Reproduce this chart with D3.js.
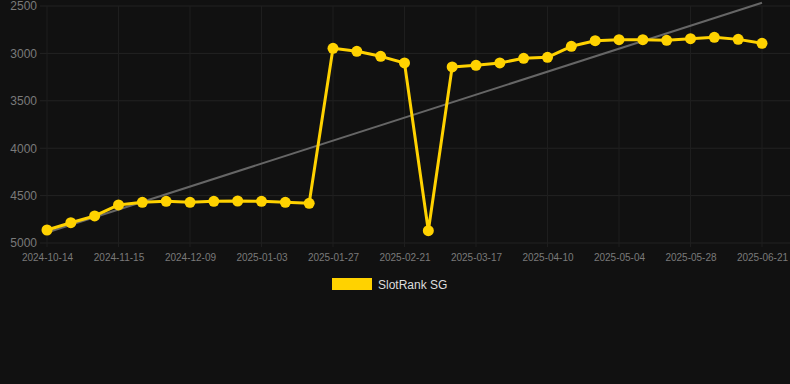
<!DOCTYPE html>
<html>
<head>
<meta charset="utf-8">
<script src="https://cdn.jsdelivr.net/npm/d3@7/dist/d3.min.js"></script>
<style>
html,body{margin:0;padding:0;background:#111111;}
svg{display:block;font-family:"Liberation Sans",Arial,sans-serif;}
</style>
</head>
<body>
<svg id="chart" width="790" height="384"></svg>
<script>
const dates = ["2024-10-14","2024-10-25","2024-11-05","2024-11-15","2024-11-23","2024-12-01","2024-12-09","2024-12-17","2024-12-25","2025-01-03","2025-01-11","2025-01-19","2025-01-27","2025-02-04","2025-02-12","2025-02-21","2025-03-01","2025-03-09","2025-03-17","2025-03-25","2025-04-02","2025-04-10","2025-04-18","2025-04-26","2025-05-04","2025-05-12","2025-05-20","2025-05-28","2025-06-05","2025-06-13","2025-06-21"];
const values = [4863,4786,4715,4599,4571,4560,4571,4560,4557,4560,4571,4581,2946,2978,3031,3101,4870,3143,3126,3101,3052,3041,2925,2866,2855,2855,2862,2845,2830,2852,2894];
const trendEnds = [4890,2465];
const yTicks = [2500,3000,3500,4000,4500,5000];
const xTickLabels = ["2024-10-14","2024-11-15","2024-12-09","2025-01-03","2025-01-27","2025-02-21","2025-03-17","2025-04-10","2025-05-04","2025-05-28","2025-06-21"];
const seriesName = "SlotRank SG";

(function () {
const svg = d3.select("#chart");
const pTop = 6, pBottom = 243, pLeft = 40, pRight = 790;
const x = d3.scalePoint().domain(dates).range([47, 762]);
const y = d3.scaleLinear().domain([2500, 5000]).range([pTop, pBottom]);

const grid = svg.append("g");
grid.selectAll("line.h").data(yTicks).enter().append("line")
  .attr("x1", pLeft).attr("x2", pRight)
  .attr("y1", d => y(d)).attr("y2", d => y(d))
  .attr("stroke", "#232323").attr("stroke-width", 1);
grid.selectAll("line.v").data(xTickLabels).enter().append("line")
  .attr("x1", d => x(d)).attr("x2", d => x(d))
  .attr("y1", pTop).attr("y2", pBottom + 4)
  .attr("stroke", "#1e1e1e").attr("stroke-width", 1);

const yAxis = d3.axisLeft(y).tickValues(yTicks).tickFormat(d3.format("d")).tickSize(0).tickPadding(0);
const yg = svg.append("g").attr("transform", "translate(37,0)").call(yAxis);
yg.select(".domain").remove();
yg.selectAll("text").attr("fill", "#7a7a7a").attr("font-size", 12)
  .attr("font-family", "Liberation Sans, Arial, sans-serif");

const xAxis = d3.axisBottom(x).tickValues(xTickLabels).tickSize(0).tickPadding(0);
const xg = svg.append("g").attr("transform", `translate(0,${pBottom + 11})`).call(xAxis);
xg.select(".domain").remove();
xg.selectAll("text").attr("fill", "#7a7a7a").attr("font-size", 10)
  .attr("font-family", "Liberation Sans, Arial, sans-serif");

svg.append("line")
  .attr("x1", x(dates[0])).attr("x2", x(dates[dates.length - 1]))
  .attr("y1", y(trendEnds[0])).attr("y2", y(trendEnds[1]))
  .attr("stroke", "#666666").attr("stroke-width", 2);

const data = dates.map((d, i) => ({d, v: values[i]}));
svg.append("path").datum(data)
  .attr("fill", "none").attr("stroke", "#FFD200").attr("stroke-width", 3)
  .attr("stroke-linejoin", "round")
  .attr("d", d3.line().x(p => x(p.d)).y(p => y(p.v)));
svg.selectAll("circle.pt").data(data).enter().append("circle")
  .attr("cx", p => x(p.d)).attr("cy", p => y(p.v)).attr("r", 5.5)
  .attr("fill", "#FFD200");

svg.append("rect").attr("x", 332).attr("y", 278).attr("width", 40).attr("height", 12)
  .attr("fill", "#FFD200");
svg.append("text").attr("x", 378).attr("y", 288.5).text(seriesName)
  .attr("fill", "#dddddd").attr("font-size", 12)
  .attr("font-family", "Liberation Sans, Arial, sans-serif");
})();
</script>
</body>
</html>
